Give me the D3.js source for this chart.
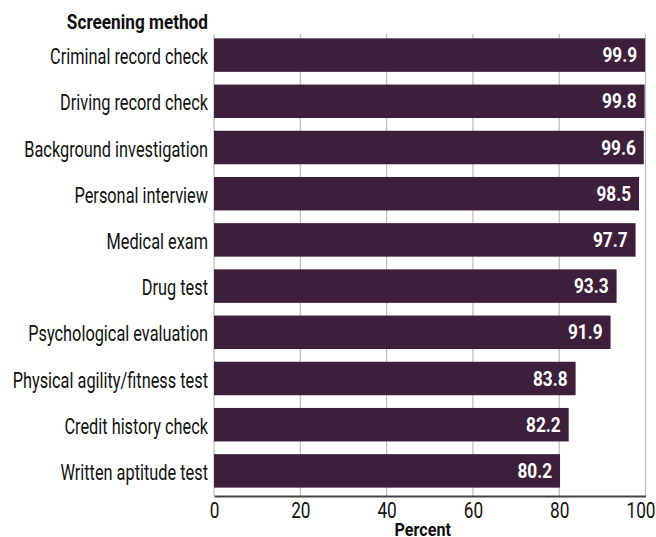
<!DOCTYPE html>
<html>
<head>
<meta charset="utf-8">
<script src="https://cdn.jsdelivr.net/npm/d3@7"></script>
<style>
  body { margin: 0; background: #fff; }
  svg text { font-family: Roboto, 'DejaVu Sans', sans-serif; }
</style>
</head>
<body>
<div id="chart"></div>
<script>
// screening methods, top to bottom
let methods = ['Criminal record check', 'Driving record check', 'Background investigation',
  'Personal interview', 'Medical exam', 'Drug test', 'Psychological evaluation',
  'Physical agility/fitness test', 'Credit history check', 'Written aptitude test']
let percents = [99.9, 99.8, 99.6, 98.5, 97.7, 93.3, 91.9, 83.8, 82.2, 80.2]
let tickVals = [0, 20, 40, 60, 80, 100]

let data = methods.map((m, i) => ({method: m, pct: percents[i]}))

var width = 656
var height = 537
var plotLeft = 214
var plotRight = 645.5
var plotTop = 32
var plotBottom = 494

// no condensed face installed, so squeeze text horizontally
function squeeze (px, py, sx) {
  return 'translate(' + px + ',' + py + ') scale(' + sx + ',1)'
}

var svg = d3.select('#chart')
  .append('svg')
  .attr('width', width)
  .attr('height', height)

var x = d3.scaleLinear()
  .domain([0, 100])
  .range([plotLeft, plotRight])

var y = d3.scaleBand()
  .domain(methods)
  .range([plotTop, plotBottom])
  .paddingInner(0.275)
  .paddingOuter(0.1375)

// gridlines
svg.selectAll('line.grid')
  .data(tickVals)
  .enter()
  .append('line')
  .attr('class', 'grid')
  .attr('x1', d => x(d))
  .attr('x2', d => x(d))
  .attr('y1', plotTop + 2)
  .attr('y2', plotBottom + 2)
  .attr('stroke', '#bdbdbd')
  .attr('stroke-width', 1.2)

// bars
svg.selectAll('rect')
  .data(data)
  .enter()
  .append('rect')
  .attr('x', x(0))
  .attr('y', d => y(d.method))
  .attr('width', d => x(d.pct) - x(0))
  .attr('height', y.bandwidth())
  .attr('fill', '#3e1f3b')

// value labels inside bars
svg.selectAll('text.val')
  .data(data)
  .enter()
  .append('text')
  .attr('class', 'val')
  .attr('transform', d => squeeze(x(d.pct) - 8, y(d.method) + y.bandwidth() / 2 + 7, 0.82))
  .attr('text-anchor', 'end')
  .attr('fill', '#fff')
  .attr('font-weight', 'bold')
  .attr('font-size', 21)
  .text(d => d.pct.toFixed(1))

// category labels
svg.selectAll('text.cat')
  .data(data)
  .enter()
  .append('text')
  .attr('class', 'cat')
  .attr('transform', d => squeeze(plotLeft - 6, y(d.method) + y.bandwidth() / 2 + 9, 0.76))
  .attr('text-anchor', 'end')
  .attr('fill', '#111')
  .attr('font-size', 21.5)
  .text(d => d.method)

// x axis
var xAxis = d3.axisBottom(x)
  .tickValues(tickVals)
  .tickSize(0)

var axisG = svg.append('g')
  .attr('transform', 'translate(0,' + (plotBottom + 2) + ')')
  .call(xAxis)

axisG.select('.domain')
  .attr('stroke', '#444')
  .attr('stroke-width', 2)
axisG.selectAll('.tick text')
  .attr('y', null)
  .attr('dy', null)
  .attr('transform', d => squeeze(d === 100 ? -5 : 0, 22, 0.8))
  .attr('font-size', 21.5)
  .attr('fill', '#111')
  .attr('font-family', null)

// axis titles
svg.append('text')
  .attr('transform', squeeze((plotLeft + plotRight) / 2 - 7, 536, 0.85))
  .attr('text-anchor', 'middle')
  .attr('font-weight', 'bold')
  .attr('font-size', 19)
  .attr('fill', '#111')
  .text('Percent')

svg.append('text')
  .attr('transform', squeeze(plotLeft - 6, 29, 0.86))
  .attr('text-anchor', 'end')
  .attr('font-weight', 'bold')
  .attr('font-size', 20)
  .attr('fill', '#111')
  .text('Screening method')
</script>
</body>
</html>
